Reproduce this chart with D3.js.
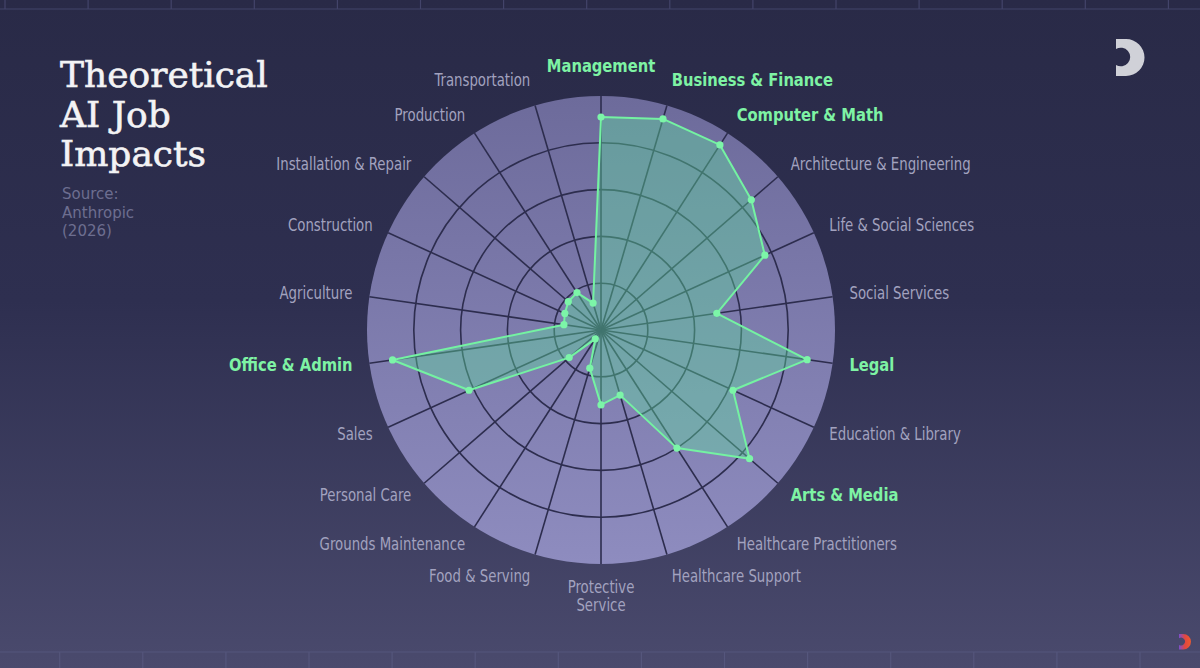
<!DOCTYPE html>
<html><head><meta charset="utf-8">
<script src="https://cdn.jsdelivr.net/npm/d3@7"></script>
<style>
html,body{margin:0;padding:0;background:#2a2b48;}
svg{display:block;}
</style></head>
<body>
<svg id="chart" width="1200" height="668"></svg>
<script>
// ---- data ----
const categories = ["Management","Business & Finance","Computer & Math","Architecture & Engineering","Life & Social Sciences","Social Services","Legal","Education & Library","Arts & Media","Healthcare Practitioners","Healthcare Support","Protective\nService","Food & Serving","Grounds Maintenance","Personal Care","Sales","Office & Admin","Agriculture","Construction","Installation & Repair","Production","Transportation"];
const values = [91, 94, 94, 85, 77, 50, 89, 62, 84, 60, 29, 32, 17, 4.5, 18, 62, 90, 16, 17, 18.5, 19, 12];
const highlighted = ["Management","Business & Finance","Computer & Math","Legal","Arts & Media","Office & Admin"];
const ringTicks = [20, 40, 60, 80, 100];
const titleLines = ["Theoretical", "AI Job", "Impacts"];
const sourceLines = ["Source:", "Anthropic", "(2026)"];

// ---- layout ----
const W = 1200, H = 668;
const cx = 601, cy = 330, R = 234;
const svg = d3.select("#chart");
const defs = svg.append("defs");

const bg = defs.append("linearGradient").attr("id","bg").attr("x1",0).attr("y1",0).attr("x2",0).attr("y2",1);
bg.append("stop").attr("offset","0").attr("stop-color","#292a47");
bg.append("stop").attr("offset","0.45").attr("stop-color","#2e2f50");
bg.append("stop").attr("offset","1").attr("stop-color","#4a4a6d");

const disc = defs.append("linearGradient").attr("id","disc").attr("x1",0).attr("y1",0).attr("x2",0).attr("y2",1);
disc.append("stop").attr("offset","0").attr("stop-color","#6d6b9b");
disc.append("stop").attr("offset","1").attr("stop-color","#8e8cbf");

const logoGrad = defs.append("linearGradient").attr("id","logoGrad").attr("x1",0).attr("y1",0).attr("x2",1).attr("y2",0);
logoGrad.append("stop").attr("offset","0").attr("stop-color","#7a4fd0");
logoGrad.append("stop").attr("offset","0.5").attr("stop-color","#e2473f");
logoGrad.append("stop").attr("offset","1").attr("stop-color","#ee5a30");

svg.append("rect").attr("width",W).attr("height",H).attr("fill","url(#bg)");

// decorative tile lines top & bottom
const deco = svg.append("g").attr("stroke","#43446a").attr("stroke-width",1.2);
deco.append("line").attr("x1",0).attr("x2",W).attr("y1",9).attr("y2",9);
deco.selectAll(".vt").data(d3.range(5, W, 83.1)).join("line")
  .attr("x1",d=>d).attr("x2",d=>d).attr("y1",0).attr("y2",9);
const deco2 = svg.append("g").attr("stroke","#55567c").attr("stroke-width",1.2);
deco2.append("line").attr("x1",0).attr("x2",W).attr("y1",652).attr("y2",652);
deco2.selectAll(".vb").data(d3.range(59.7, W, 83.1)).join("line")
  .attr("x1",d=>d).attr("x2",d=>d).attr("y1",652).attr("y2",H);

// scales
const r = d3.scaleLinear().domain([0, 100]).range([0, R]);
const angle = d3.scalePoint().domain(categories).range([0, 2*Math.PI*(1 - 1/categories.length)]);

const g = svg.append("g").attr("transform", `translate(${cx},${cy})`);

// disc
g.append("circle").attr("r", r(100)).attr("fill","url(#disc)");

// rings
g.selectAll(".ring").data(ringTicks.slice(0,-1)).join("circle")
  .attr("r", d=>r(d)).attr("fill","none").attr("stroke","#2d2d4e").attr("stroke-width",1.6);

// spokes
g.selectAll(".spoke").data(categories).join("line")
  .attr("x1",0).attr("y1",0)
  .attr("x2", d=> r(100)*Math.sin(angle(d)))
  .attr("y2", d=> -r(100)*Math.cos(angle(d)))
  .attr("stroke","#2d2d4e").attr("stroke-width",1.6);

// polygon
const line = d3.lineRadial()
  .angle((d,i)=>angle(categories[i]))
  .radius(d=>r(d))
  .curve(d3.curveLinearClosed);
g.append("path").datum(values).attr("d", line)
  .attr("fill","#5fe0a0").attr("fill-opacity",0.4)
  .attr("stroke","#74f2a2").attr("stroke-width",2).attr("stroke-linejoin","round");

g.selectAll(".pt").data(values).join("circle")
  .attr("cx",(d,i)=> r(d)*Math.sin(angle(categories[i])))
  .attr("cy",(d,i)=> -r(d)*Math.cos(angle(categories[i])))
  .attr("r",3.6).attr("fill","#7cf5a8");

// labels
const LR = 251;
const labG = g.selectAll(".lab").data(categories).join("g")
  .attr("transform", d => {
    const a = angle(d), s = Math.sin(a), c = Math.cos(a);
    const x = LR*s, y0 = -LR*c;
    const y = y0 + 5 - (c > 0 ? 12*Math.pow(c, 8) : 7*c*c*c);
    return `translate(${x},${y})`;
  });
labG.append("text")
  .attr("transform", d => `scale(${highlighted.includes(d) ? 0.91 : 0.87},1)`)
  .attr("font-family", '"Liberation Sans Narrow", "DejaVu Sans Condensed", sans-serif')
  .attr("font-weight", d => highlighted.includes(d) ? 700 : 400)
  .attr("font-size", d => highlighted.includes(d) ? 18 : 17)
  .attr("fill", d => highlighted.includes(d) ? "#7ef3a4" : "#a2a2bf")
  .attr("text-anchor", d => { const s = Math.sin(angle(d)); return s > 0.05 ? "start" : (s < -0.05 ? "end" : "middle"); })
  .each(function(d){
    d3.select(this).selectAll("tspan").data(d.split("\n")).join("tspan")
      .attr("x", 0).attr("y", (t,k)=> k*18).text(t=>t);
  });

// title
svg.append("g").selectAll("text").data(titleLines).join("text")
  .attr("x",60).attr("y",(d,i)=>87 + i*39.5)
  .attr("font-family",'"DejaVu Serif", serif').attr("font-size",36)
  .attr("fill","#f3f3f5").attr("stroke","#f3f3f5").attr("stroke-width",0.6).text(d=>d);

svg.append("g").selectAll("text").data(sourceLines).join("text")
  .attr("x",62).attr("y",(d,i)=>199 + i*18.5)
  .attr("font-family",'"DejaVu Sans", sans-serif').attr("font-size",15)
  .attr("fill","#6d6e90").text(d=>d);

// logos
const logoPath = "M0,0 H10 A18.5,18.5 0 0 1 10,37 H0 V26 A9.35,9.35 0 1 0 0,10 Z";
svg.append("path").attr("d",logoPath).attr("transform","translate(1116,39)").attr("fill","#d0d1d8");
svg.append("path").attr("d",logoPath).attr("transform","translate(1179,634) scale(0.42)").attr("fill","url(#logoGrad)");
</script>
</body></html>
